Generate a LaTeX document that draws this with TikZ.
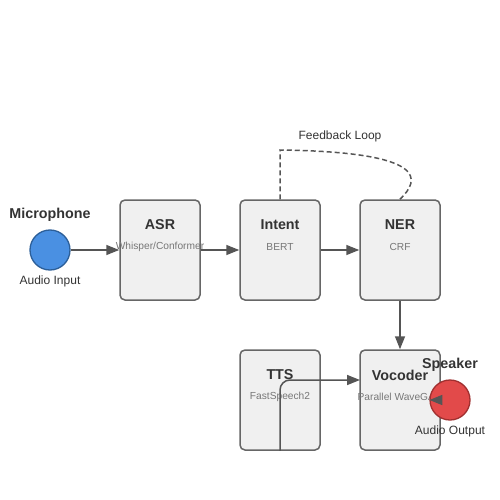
\documentclass[tikz,border=0pt]{standalone}
\usepackage{fontspec}
\setmainfont{Liberation Sans}
\usetikzlibrary{arrows.meta,calc}
\definecolor{boxfill}{HTML}{F0F0F0}
\definecolor{boxline}{HTML}{666666}
\definecolor{linec}{HTML}{555555}
\definecolor{titlec}{HTML}{333333}
\definecolor{subc}{HTML}{777777}
\definecolor{micfill}{HTML}{4A90E2}
\definecolor{micline}{HTML}{2C5F99}
\definecolor{spkfill}{HTML}{E24A4A}
\definecolor{spkline}{HTML}{A03030}
\begin{document}
\begin{tikzpicture}[x=1pt,y=-1pt,
  stagebox/.style={draw=boxline,fill=boxfill,line width=1.5pt,rounded corners=5pt,minimum width=80pt,minimum height=100pt,inner sep=0pt},
  ttl/.style={text=titlec,font=\fontsize{14.3}{16}\selectfont\bfseries,inner sep=0pt},
  sub/.style={text=subc,font=\fontsize{10.2}{12}\selectfont,inner sep=0pt},
  lbl/.style={text=titlec,font=\fontsize{12}{14}\selectfont,inner sep=0pt},
  io/.style={circle,minimum size=40pt,inner sep=0pt,line width=1.3pt},
  conn/.style={draw=linec,line width=1.5pt,-{Triangle[length=13pt,width=10pt]}},
  fb/.style={draw=linec,line width=1.5pt,dash pattern=on 5pt off 3pt}
]
\useasboundingbox (0,0) rectangle (500,500);
% boxes
\node[stagebox] (asr) at (160,250) {};
\node[stagebox] (intent) at (280,250) {};
\node[stagebox] (ner) at (400,250) {};
\node[stagebox] (tts) at (280,400) {};
\node[stagebox] (voc) at (400,400) {};
% texts
\node[ttl] (asrt) at (160,225) {ASR};
\node[sub] (asrs) at (160,246.5) {Whisper/Conformer};
\node[ttl] (intt) at (280,225) {Intent};
\node[sub] (ints) at (280,246.5) {BERT};
\node[ttl] (nert) at (400,225) {NER};
\node[sub] (ners) at (400,246.5) {CRF};
\node[ttl] (ttst) at (280,375) {TTS};
\node[sub] (ttss) at (280,396.5) {FastSpeech2};
\node[ttl] (voct) at (400,375) {Vocoder};
\node[sub] (vocs) at (400,396.5) {Parallel WaveGAN};
% io circles
\node[io,draw=micline,fill=micfill] (mic) at (50,250) {};
\node[ttl] (micl) at (50,215) {Microphone};
\node[lbl] (mics) at (50,281) {Audio Input};
% connectors
\draw[conn] (mic) -- (asr);
\draw[conn] (asr) -- (intent);
\draw[conn] (intent) -- (ner);
\draw[conn] (ner) -- (voc);
\coordinate (vin) at (360,380);
\draw[conn,rounded corners=10pt] (tts.south) -- (tts.south |- vin) -- (vin);
\coordinate (fbtop) at (280,150);
\draw[fb] (intent.north) -- (fbtop) .. controls (430,152) and (420,180) .. (ner.north);
\node[lbl] (fbl) at (340,136) {Feedback Loop};
% speaker
\node[io,draw=spkline,fill=spkfill] (spk) at (450,400) {};
\node[ttl] (spkl) at (450,365) {Speaker};
\node[lbl] (spks) at (450,431) {Audio Output};
\draw[conn] (voc.east) -- (spk.west);
\end{tikzpicture}
\end{document}
